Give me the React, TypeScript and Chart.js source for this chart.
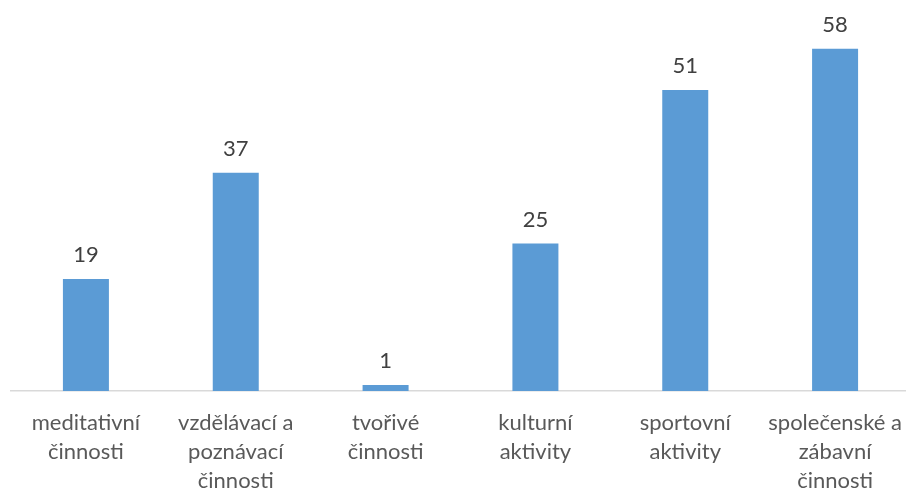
import React, { useEffect, useRef } from "react";
import { Chart, registerables } from "chart.js";

Chart.register(...registerables);

const categories: string[][] = [
  ["meditativní", "činnosti"],
  ["vzdělávací a", "poznávací", "činnosti"],
  ["tvořivé", "činnosti"],
  ["kulturní", "aktivity"],
  ["sportovní", "aktivity"],
  ["společenské a", "zábavní", "činnosti"],
];
const values: number[] = [19, 37, 1, 25, 51, 58];
const yMax = 60;

const FONT = "Lato, 'Open Sans', sans-serif";

const valueLabels = {
  id: "valueLabels",
  afterDatasetsDraw(chart: any) {
    const ctx = chart.ctx;
    const meta = chart.getDatasetMeta(0);
    ctx.save();
    ctx.fillStyle = "#404040";
    ctx.font = `22px ${FONT}`;
    ctx.textAlign = "center";
    ctx.textBaseline = "alphabetic";
    meta.data.forEach((bar: any, i: number) => {
      ctx.fillText(String(values[i]), bar.x, bar.y - 17);
    });
    ctx.restore();
  },
};

export default function App() {
  const ref = useRef<HTMLCanvasElement | null>(null);
  useEffect(() => {
    if (!ref.current) return;
    const chart = new Chart(ref.current, {
      type: "bar",
      data: {
        labels: categories,
        datasets: [
          {
            data: values,
            backgroundColor: "#5b9bd5",
            barPercentage: 0.307,
            categoryPercentage: 1,
          },
        ],
      },
      options: {
        animation: false,
        responsive: false,
        maintainAspectRatio: false,
        layout: { padding: { top: 37, left: 11, right: 0, bottom: 0 } },
        plugins: { legend: { display: false }, tooltip: { enabled: false } },
        scales: {
          x: {
            grid: { display: false, drawTicks: false },
            border: { display: true, color: "#d9d9d9", width: 1.5 },
            ticks: {
              color: "#595959",
              font: { family: FONT, size: 22, lineHeight: "29px" },
              padding: 17,
              maxRotation: 0,
              autoSkip: false,
            },
            afterFit: (s: any) => {
              s.height = 99;
              s.paddingLeft = 0;
              s.paddingRight = 0;
            },
          },
          y: {
            display: false,
            min: 0,
            max: yMax,
          },
        },
      },
      plugins: [valueLabels],
    });
    return () => chart.destroy();
  }, []);
  return (
    <div style={{ position: "fixed", left: 0, top: 0, width: 910, height: 490, background: "#fff" }}>
      <canvas ref={ref} width={910} height={490} />
    </div>
  );
}
